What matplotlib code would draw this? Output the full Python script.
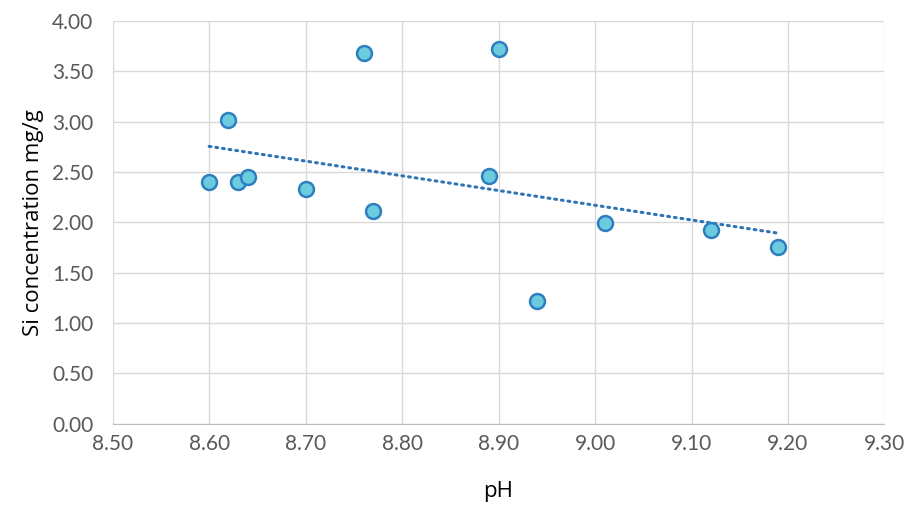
import numpy as np
import matplotlib.pyplot as plt

plt.rcParams['font.family'] = ['Lato', 'DejaVu Sans']

ph = [8.60, 8.62, 8.63, 8.64, 8.70, 8.76, 8.77, 8.89, 8.90, 8.94, 9.01, 9.12, 9.19]
si = [2.40, 3.02, 2.40, 2.45, 2.33, 3.68, 2.11, 2.46, 3.72, 1.22, 1.99, 1.92, 1.76]

x_ticks = [8.50, 8.60, 8.70, 8.80, 8.90, 9.00, 9.10, 9.20, 9.30]
y_ticks = [0.00, 0.50, 1.00, 1.50, 2.00, 2.50, 3.00, 3.50, 4.00]

fig = plt.figure(figsize=(9.09, 5.07), dpi=100)
ax = fig.add_axes([0.124, 0.164, 0.849, 0.795])

# linear trendline
k, b = np.polyfit(ph, si, 1)
xt = np.array([min(ph), max(ph)])
ax.plot(xt, k * xt + b, color='#2E75B6', linewidth=2.2, linestyle=(0, (0.6, 1.6)),
        dash_capstyle='round', zorder=2)

ax.scatter(ph, si, s=115, facecolor='#6CCBDE', edgecolor='#2E7FC0', linewidth=1.8, zorder=3)

ax.set_xlim(8.5, 9.3)
ax.set_ylim(0, 4.0)
ax.set_xticks(x_ticks)
ax.set_yticks(y_ticks)
ax.set_xticklabels(['%.2f' % v for v in x_ticks])
ax.set_yticklabels(['%.2f' % v for v in y_ticks])
ax.grid(True, color='#D9D9D9', linewidth=1)
ax.set_axisbelow(True)
for s in ['top', 'right', 'left']:
    ax.spines[s].set_visible(False)
ax.spines['bottom'].set_color('#BFBFBF')
ax.tick_params(length=0, labelsize=15, colors='#595959')
ax.tick_params(axis='x', pad=7)
ax.tick_params(axis='y', pad=14)
ax.set_xlabel('pH', fontsize=16, color='black', labelpad=20, family=['Open Sans', 'DejaVu Sans'])
ax.set_ylabel('Si concentration mg/g', fontsize=16, color='black', labelpad=6,
              family=['Open Sans', 'DejaVu Sans'])

fig.savefig('out.png', dpi=100)
